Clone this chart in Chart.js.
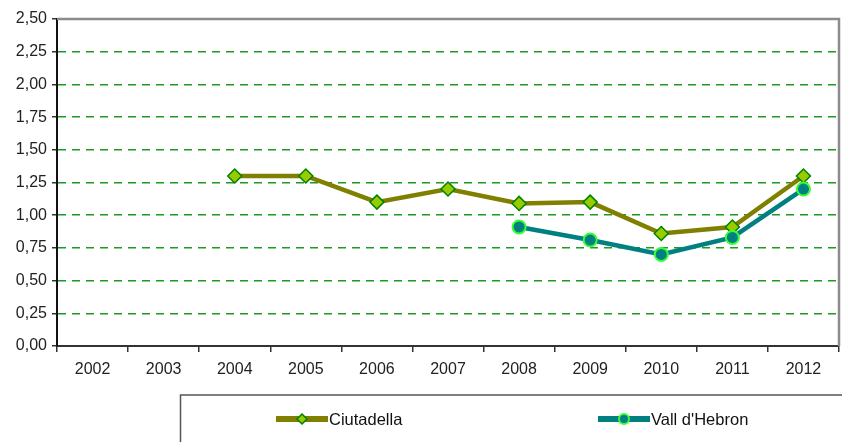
<!DOCTYPE html>
<html>
<head>
<meta charset="utf-8">
<script src="https://cdn.jsdelivr.net/npm/chart.js@4/dist/chart.umd.min.js"></script>
<style>
  html, body { margin: 0; padding: 0; background: #fff; }
  #wrap { width: 842px; height: 442px; }
</style>
</head>
<body>
<div id="wrap"><canvas id="myChart" width="842" height="442"></canvas></div>
<script>
// data
const years = ['2002', '2003', '2004', '2005', '2006', '2007', '2008', '2009', '2010', '2011', '2012'];
const ciutadella = [null, null, 1.30, 1.30, 1.10, 1.20, 1.09, 1.10, 0.86, 0.91, 1.30];
const vallHebron = [null, null, null, null, null, null, 0.91, 0.81, 0.70, 0.83, 1.20];
const yTicks = [0, 0.25, 0.5, 0.75, 1, 1.25, 1.5, 1.75, 2, 2.25, 2.5];

const fmt = v => v.toFixed(2).replace('.', ',');
const FONT = '"Liberation Sans", Arial, sans-serif';

// frame (gray top / right) + legend box at the bottom
const framePlugin = {
  id: 'frame',
  beforeDatasetsDraw(chart) {
    const { ctx, chartArea: a } = chart;
    ctx.save();
    ctx.strokeStyle = '#8c8c8c';
    ctx.lineWidth = 2.5;
    ctx.beginPath();
    ctx.moveTo(a.left, a.top);
    ctx.lineTo(a.right, a.top);
    ctx.lineTo(a.right, a.bottom);
    ctx.stroke();
    ctx.restore();
  },
  afterDraw(chart) {
    const { ctx } = chart;
    ctx.save();
    ctx.strokeStyle = '#555';
    ctx.lineWidth = 1.5;
    ctx.beginPath();
    ctx.moveTo(180.5, 442);
    ctx.lineTo(180.5, 395);
    ctx.lineTo(842, 395);
    ctx.stroke();

    const items = [
      { ds: chart.data.datasets[0], x: 276 },
      { ds: chart.data.datasets[1], x: 598 }
    ];
    const y = 419;
    items.forEach(it => {
      const ds = it.ds;
      const cx = it.x + 26;
      ctx.strokeStyle = ds.borderColor;
      ctx.lineWidth = 6;
      ctx.beginPath();
      ctx.moveTo(it.x, y);
      ctx.lineTo(it.x + 52, y);
      ctx.stroke();
      ctx.fillStyle = ds.pointBackgroundColor;
      ctx.strokeStyle = ds.pointBorderColor;
      ctx.lineWidth = ds.pointBorderWidth;
      ctx.beginPath();
      if (ds.pointStyle === 'rectRot') {
        const r = 5;
        ctx.moveTo(cx, y - r);
        ctx.lineTo(cx + r, y);
        ctx.lineTo(cx, y + r);
        ctx.lineTo(cx - r, y);
        ctx.closePath();
      } else {
        ctx.arc(cx, y, 5, 0, Math.PI * 2);
      }
      ctx.fill();
      ctx.stroke();
      ctx.fillStyle = '#111';
      ctx.font = '16.5px ' + FONT;
      ctx.textBaseline = 'middle';
      ctx.fillText(ds.label, it.x + 53, y + 1);
    });
    ctx.restore();
  }
};

const ctx = document.getElementById('myChart').getContext('2d');

const myChart = new Chart(ctx, {
  type: 'line',
  data: {
    labels: years,
    datasets: [{
      label: 'Ciutadella',
      data: ciutadella,
      order: 1,
      borderColor: '#808000',
      borderWidth: 4.5,
      pointStyle: 'rectRot',
      pointRadius: 7,
      pointBackgroundColor: '#99cc00',
      pointBorderColor: '#008000',
      pointBorderWidth: 1.5,
      tension: 0
    }, {
      label: "Vall d'Hebron",
      data: vallHebron,
      order: 0, // drawn on top
      borderColor: '#008080',
      borderWidth: 4.5,
      pointStyle: 'circle',
      pointRadius: 6.5,
      pointBackgroundColor: '#008080',
      pointBorderColor: '#33ff33',
      pointBorderWidth: 2,
      tension: 0
    }]
  },
  options: {
    responsive: false,
    animation: false,
    layout: { autoPadding: false, padding: { top: 19, right: 3, left: 0, bottom: 0 } },
    plugins: {
      legend: { display: false },
      tooltip: { enabled: false }
    },
    scales: {
      x: {
        offset: true,
        grid: {
          offset: true,
          drawOnChartArea: false,
          color: '#333',
          tickLength: 6,
          lineWidth: 1.5
        },
        border: { color: '#333', width: 2 },
        ticks: {
          color: '#222',
          padding: 8,
          maxRotation: 0,
          font: { family: FONT, size: 16 }
        },
        afterFit(scale) {
          scale.height = 96;
          scale.paddingLeft = 0;
          scale.paddingRight = 0;
        }
      },
      y: {
        min: 0,
        max: 2.5,
        afterBuildTicks(scale) { scale.ticks = yTicks.map(v => ({ value: v })); },
        grid: {
          color: ctx => (ctx.tick && (ctx.tick.value === 0 || ctx.tick.value === 2.5)) ? 'rgba(0,0,0,0)' : '#1e9a1e',
          tickColor: '#333',
          lineWidth: 1.5,
          tickLength: 5
        },
        border: { color: '#111', width: 2, dash: [8, 6] },
        ticks: {
          color: '#222',
          padding: 5,
          callback: v => fmt(v),
          font: { family: FONT, size: 16 }
        },
        afterFit(scale) { scale.width = 57; }
      }
    }
  },
  plugins: [framePlugin]
});
</script>
</body>
</html>
